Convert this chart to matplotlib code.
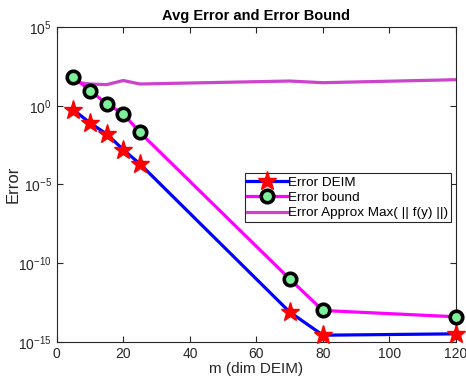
import matplotlib
matplotlib.use('Agg')
import matplotlib.pyplot as plt

# data
m_vals = [5, 10, 15, 20, 25, 70, 80, 120]
err_deim = [0.55, 0.08, 0.016, 1.6e-3, 2e-4, 8e-14, 2.7e-15, 3.3e-15]
err_bound = [66, 9, 1.35, 0.3, 0.02, 1e-11, 1e-13, 4e-14]
err_approx = [32, 24, 22, 40, 24, 37, 29, 45]

plt.rcParams['font.family'] = ['Liberation Sans', 'DejaVu Sans']

fig = plt.figure(figsize=(4.66, 3.8), dpi=100)
ax = fig.add_axes([0.122, 0.1, 0.8565, 0.829])

ax.plot(m_vals, err_deim, '-', color='blue', lw=2.3, marker='*', ms=14,
        mfc='red', mec='red', label='Error DEIM', clip_on=False, zorder=3)
ax.plot(m_vals, err_bound, '-', color='magenta', lw=2.3, marker='o', ms=9,
        mfc='#7df09a', mec='black', mew=2.6, label='Error bound', clip_on=False, zorder=3)
ax.plot(m_vals, err_approx, '-', color='#cc44cc', lw=2.3,
        label='Error Approx Max( || f(y) ||)', zorder=2)

ax.set_yscale('log')
ax.set_xlim(0, 120)
ax.set_ylim(1e-15, 1e5)
ax.set_yticks([1e-15, 1e-10, 1e-5, 1e0, 1e5])
ax.minorticks_off()
ax.set_xticks(range(0, 121, 20))
ax.tick_params(direction='in', top=True, right=True, labelsize=10,
               colors='#262626', length=4)
for s in ax.spines.values():
    s.set_color('#262626')
    s.set_linewidth(0.8)

ax.set_xlabel('m (dim DEIM)', fontsize=11, color='#262626', labelpad=1)
ax.set_ylabel('Error', fontsize=12, color='#262626', labelpad=-2)
ax.set_title('Avg Error and Error Bound', fontsize=10.5, fontweight='bold', pad=5)

leg = ax.legend(loc='upper right', bbox_to_anchor=(0.988, 0.535), fontsize=9.7,
                handlelength=3.0, handletextpad=0.05, borderpad=0.2,
                labelspacing=0.22, fancybox=False, framealpha=1, numpoints=1,
                edgecolor='#262626', borderaxespad=0)
leg.get_frame().set_linewidth(0.8)

fig.savefig('out.png', dpi=100)
